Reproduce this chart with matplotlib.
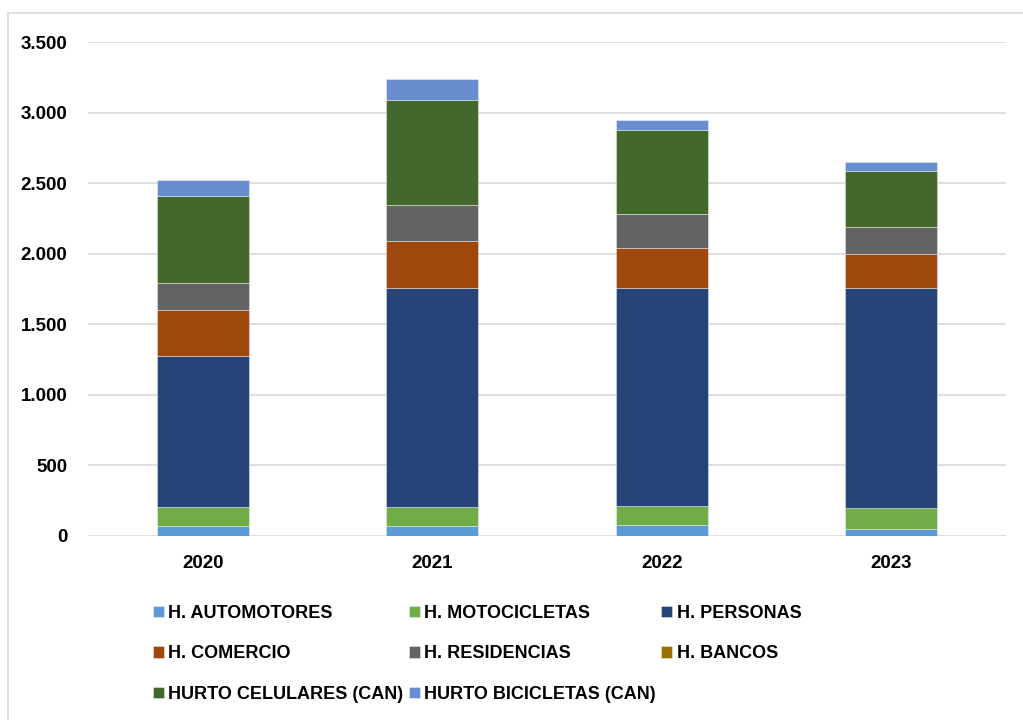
import matplotlib.pyplot as plt
import matplotlib.patches as mpatches
from matplotlib.ticker import FuncFormatter
import numpy as np

years = ['2020', '2021', '2022', '2023']
automotores = [68, 70, 80, 50]
motocicletas = [135, 138, 130, 146]
personas = [1075, 1548, 1547, 1559]
comercio = [322, 337, 286, 241]
residencias = [192, 255, 238, 198]
bancos = [0, 0, 0, 0]
celulares = [620, 744, 598, 397]
bicicletas = [110, 147, 71, 57]

series = [
    ('H. AUTOMOTORES', automotores, '#5B9BD5'),
    ('H. MOTOCICLETAS', motocicletas, '#70AD47'),
    ('H. PERSONAS', personas, '#264478'),
    ('H. COMERCIO', comercio, '#9E480E'),
    ('H. RESIDENCIAS', residencias, '#636363'),
    ('H. BANCOS', bancos, '#997300'),
    ('HURTO CELULARES (CAN)', celulares, '#43682B'),
    ('HURTO BICICLETAS (CAN)', bicicletas, '#698ED0'),
]

plt.rcParams['font.family'] = ['Liberation Sans', 'DejaVu Sans']
plt.rcParams['font.weight'] = 'bold'

fig = plt.figure(figsize=(10.23, 7.2), dpi=100)
ax = fig.add_axes([88 / 1023, 1 - 536 / 720, (1006 - 88) / 1023, (536 - 42.3) / 720])

x = np.arange(len(years))
bottom = np.zeros(len(years))
handles = {}
for name, vals, col in series:
    b = ax.bar(x, vals, width=0.4, bottom=bottom, color=col, label=name,
               edgecolor=(1, 1, 1, 0.45), linewidth=0.6, zorder=3)
    handles[name] = b
    bottom = bottom + np.array(vals)

ax.set_xlim(-0.5, 3.5)
ax.set_ylim(0, 3500)
ax.set_yticks(np.arange(0, 3501, 500))
ax.yaxis.set_major_formatter(FuncFormatter(lambda v, p: f'{int(v):,}'.replace(',', '.')))
ax.set_xticks(x)
ax.set_xticklabels(years)
ax.grid(axis='y', color='#D9D9D9', linewidth=1.2, zorder=0)
for s in ax.spines.values():
    s.set_visible(False)
ax.tick_params(axis='both', length=0, labelsize=13.5)
ax.tick_params(axis='y', pad=15)
ax.tick_params(axis='x', pad=14)

# legend in row-major order as in the original
order = ['H. AUTOMOTORES', 'H. COMERCIO', 'HURTO CELULARES (CAN)',
         'H. MOTOCICLETAS', 'H. RESIDENCIAS', 'HURTO BICICLETAS (CAN)',
         'H. PERSONAS', 'H. BANCOS']
fig.legend([handles[n] for n in order], order, loc='upper left',
           bbox_to_anchor=(153 / 1023, 1 - 605 / 720), ncol=3, frameon=False,
           fontsize=13, handlelength=0.6, handleheight=0.6, handletextpad=0.25,
           columnspacing=0.3, labelspacing=1.3, borderpad=0, borderaxespad=0)

frame = mpatches.Rectangle((7.5 / 1023, -0.1), 1.2, 0.1 + 1 - 13 / 720,
                           transform=fig.transFigure, fill=False,
                           edgecolor='#D9D9D9', linewidth=1.2, clip_on=False)
fig.patches.append(frame)

fig.savefig('out.png', dpi=100)
